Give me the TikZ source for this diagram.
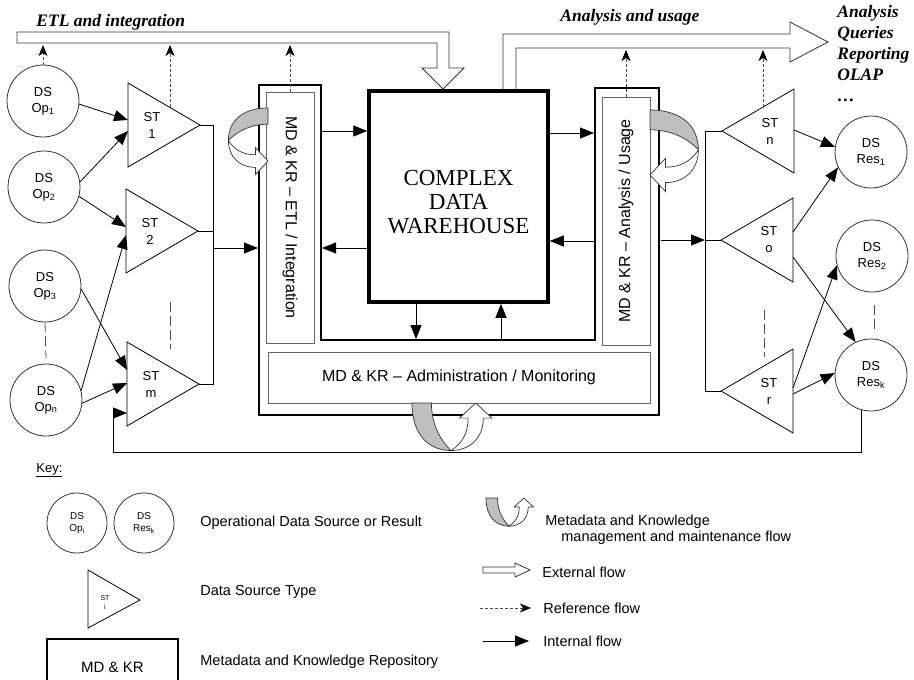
\documentclass[tikz,border=0pt]{standalone}
\usepackage{fontspec}
\setmainfont{Liberation Serif}
\setsansfont{Liberation Sans}
\usetikzlibrary{calc, positioning, arrows.meta}

\tikzset{
  dscirc/.style={circle, draw=black!80, minimum size=72, inner sep=0pt, align=center,
    font=\fontsize{13}{16}\selectfont\sffamily},
  sttext/.style={inner sep=0pt, align=center, font=\fontsize{13}{17}\selectfont\sffamily},
  mdbox/.style={draw=black!60, line width=0.8pt, inner sep=0pt,
    font=\fontsize{16}{19}\selectfont\sffamily},
  dwbox/.style={draw, line width=3.5pt, align=center, inner sep=0pt,
    font=\fontsize{23}{24}\selectfont\rmfamily},
  extflow/.style={draw=black!80, fill=white, line width=0.8pt},
  intarrow/.style={-{Triangle[length=14pt,width=11pt]}},
  refarrow/.style={draw=black!70, dash pattern=on 3pt off 2pt,
    -{Stealth[length=11pt,width=9pt,inset=3pt,color=black]}},
  sepdash/.style={draw=black!70, dash pattern=on 10pt off 4pt},
  curlgray/.style={fill=black!25, draw=black!80, line width=0.7pt},
  curlwhite/.style={fill=white, draw=black!80, line width=0.7pt},
  titletext/.style={inner sep=0pt, font=\fontsize{17.5}{21}\selectfont\rmfamily\bfseries\itshape},
  lbl/.style={anchor=west, inner sep=0pt, font=\fontsize{14.5}{16}\selectfont\sffamily},
}

% twisted metadata flow, base on v=0, loop outwards along +v
\newcommand{\mdcurl}{%
  \filldraw[curlgray] (0,0) .. controls (0,30) and (16,44) .. (36,44)
    .. controls (28,36) and (18,22) .. (18,0) -- cycle;
  \filldraw[curlwhite] (36,44) .. controls (54,44) and (66,32) .. (66,14)
    -- (74,14) -- (59,0) -- (44,14) -- (52,14)
    .. controls (52,28) and (46,38) .. (36,44) -- cycle;
}

\begin{document}
\begin{tikzpicture}[x=1pt, y=-1pt, line width=0.8pt]
\useasboundingbox (0,0) rectangle (914,680);
\clip (0,0) rectangle (914,680);

% titles
\node[titletext, anchor=west] (etltitle) at (36,22) {ETL and integration};
\node[titletext, anchor=west] (anatitle) at (560,17) {Analysis and usage};
\node[titletext, anchor=north west, align=left] (uses) at (837,5)
  {Analysis\\Queries\\Reporting\\OLAP\\\dots};

% external flows
\draw[extflow] (17,32) -- (449,32) -- (449,68) -- (464,68) -- (443,89) -- (422,68)
  -- (437,68) -- (437,43) -- (17,43) -- cycle;
\draw[extflow] (503,89) -- (503,34) -- (790,34) -- (790,22) -- (828,42) -- (790,62)
  -- (790,48) -- (516,48) -- (516,89);

% repository frame
\draw[line width=2.8pt] (259,85) -- (321,85) -- (321,340) -- (595,340) -- (595,88)
  -- (659,88) -- (659,415) -- (259,415) -- cycle;

\node[mdbox, rotate=-90, minimum width=251, minimum height=48] (etl) at (290,217.5)
  {MD \& KR \textendash{} ETL / Integration};
\node[mdbox, rotate=90, minimum width=248, minimum height=48] (ana) at (626,221)
  {MD \& KR \textendash{} Analysis / Usage};
\node[mdbox, minimum width=382, minimum height=51] (adm) at (459,377.5)
  {MD \& KR \textendash{} Administration / Monitoring};

\node[dwbox, minimum width=179, minimum height=211] (dw) at (458.5,196.5)
  {\rule{0pt}{26pt}COMPLEX\\DATA\\WAREHOUSE};

% sources and source types
\node[dscirc] (op1) at (43,101) {DS\\Op\textsubscript{1}};
\node[dscirc] (op2) at (44,187) {DS\\Op\textsubscript{2}};
\node[dscirc] (op3) at (45,286) {DS\\Op\textsubscript{3}};
\node[dscirc] (opn) at (46,400) {DS\\Op\textsubscript{n}};

\node[sttext] (st1) at (152,125) {ST\\1};
\node[sttext] (st2) at (150,231) {ST\\2};
\node[sttext] (stm) at (151,384) {ST\\m};
\foreach \nm in {st1,st2,stm}
  \draw ($(\nm)+(-24,-42)$) -- ($(\nm)+(48,0)$) -- ($(\nm)+(-24,42)$) -- cycle;

\node[sttext] (stn) at (770,131) {ST\\n};
\node[sttext] (sto) at (769,240) {ST\\o};
\node[sttext] (str) at (769,391) {ST\\r};
\foreach \nm in {stn,sto,str}
  \draw ($(\nm)+(24,-42)$) -- ($(\nm)+(-48,0)$) -- ($(\nm)+(24,42)$) -- cycle;

\node[dscirc] (res1) at (871,152) {DS\\Res\textsubscript{1}};
\node[dscirc] (res2) at (872,256) {DS\\Res\textsubscript{2}};
\node[dscirc] (resk) at (871,375) {DS\\Res\textsubscript{k}};

% "more of the same"
\draw[sepdash] (op3.south) -- ($(opn.north)+(0,-5)$);
\draw[sepdash] ($(st2)+(20,71)$) -- ($(stm)+(19,-35)$);
\draw[sepdash] ($(sto)+(-5,70)$) -- ($(str)+(-5,-34)$);
\draw[sepdash] ($(res2.south)+(2,13)$) -- ($(resk.north)+(3,-6)$);

% internal flow, left side
\draw[intarrow] (op1.-5) -- ($(st1)+(-24,-5)$);
\draw[intarrow] (op2.8) -- ($(st1)+(-24,6)$);
\draw[intarrow] (op2.-15) -- ($(st2)+(-24,-4)$);
\draw[intarrow] (opn.15) -- ($(st2)+(-24,4)$);
\draw[intarrow] (op3.-5) -- ($(stm)+(-24,-14)$);
\draw[intarrow] (opn.-5) -- ($(stm)+(-24,-1)$);

\coordinate (lbus) at (213,0);
\coordinate (etlin) at (258,248);
\draw ($(st1)+(48,0)$) -| (lbus |- stm) -- ($(stm)+(48,0)$);
\draw ($(st2)+(48,0)$) -- (lbus |- st2);
\draw[intarrow] (lbus |- etlin) -- (etlin);

% internal flow around the warehouse
\coordinate (etlwall) at (322,0);
\coordinate (anawall) at (594,0);
\coordinate (botwall) at (0,339);
\draw[intarrow] (etlwall |- 0,131) -- (dw.west |- 0,131);
\draw[intarrow] (dw.west |- 0,248) -- (etlwall |- 0,248);
\draw[intarrow] (dw.east |- 0,133) -- (anawall |- 0,133);
\draw[intarrow] (anawall |- 0,241) -- (dw.east |- 0,241);
\draw[intarrow] (dw.south -| 416,0) -- (botwall -| 416,0);
\draw[intarrow] (botwall -| 501,0) -- (dw.south -| 501,0);

% internal flow, right side
\coordinate (rbus) at (705,0);
\coordinate (anaout) at (661,240);
\draw[intarrow] (anaout) -- (rbus |- anaout);
\draw ($(stn)+(-48,0)$) -| (rbus |- str) -- ($(str)+(-48,0)$);
\draw ($(sto)+(-48,0)$) -- (rbus |- sto);

\draw[intarrow] ($(stn)+(24,-1)$) -- (res1.172);
\draw[intarrow] ($(sto)+(24,-8)$) -- (res1.205);
\draw[intarrow] ($(sto)+(24,17)$) -- (resk.115);
\draw[intarrow] ($(str)+(24,-3)$) -- (res2.195);
\draw[intarrow] ($(str)+(24,3)$) -- (resk.177);

% feedback of results
\coordinate (fbcorner) at (113,452);
\draw[intarrow] (resk.-105) |- (fbcorner) |- ($(stm)+(-24,29)$);

% reference flow
\coordinate (etlflow) at (0,45);
\coordinate (anaflow) at (0,50);
\draw[refarrow] (op1.north) -- (op1.north |- etlflow);
\draw[refarrow] ($(st1)+(18,-18)$) -- ($(st1)+(18,-80)$);
\draw[refarrow] (etl.west) -- (etl.west |- etlflow);
\draw[refarrow] (ana.east) -- (ana.east |- anaflow);
\draw[refarrow] ($(stn)+(-7,-24)$) -- ($(stn)+(-7,-81)$);

% metadata management flows
\begin{scope}[shift={(268,108)}, x={(0pt,-0.9pt)}, y={(-0.9pt,0pt)}]
  \mdcurl
\end{scope}
\begin{scope}[shift={(650,110)}, x={(0pt,-1.1pt)}, y={(1.1pt,0pt)}]
  \mdcurl
\end{scope}
\begin{scope}[shift={(412,403)}, x={(1.08pt,0pt)}, y={(0pt,-1.08pt)}]
  \mdcurl
\end{scope}

% key
\node[anchor=west, inner sep=0pt, font=\fontsize{13}{16}\selectfont\sffamily] (key) at (36,470)
  {\underline{Key:}};
\node[dscirc, minimum size=60, font=\fontsize{10}{12}\selectfont\sffamily] (keyop) at (77,523)
  {DS\\Op\textsubscript{i}};
\node[dscirc, minimum size=60, font=\fontsize{10}{12}\selectfont\sffamily] (keyres) at (144,523)
  {DS\\Res\textsubscript{k}};
\node[lbl] (keydslbl) at (200,523) {Operational Data Source or Result};

\node[sttext, font=\fontsize{7}{9}\selectfont\sffamily] (keyst) at (105,603) {ST\\i};
\draw ($(keyst)+(-17,-33)$) -- ($(keyst)+(35,-3)$) -- ($(keyst)+(-17,25)$) -- cycle;
\node[lbl] (keystlbl) at (200,592) {Data Source Type};

\node[draw, line width=2pt, minimum width=131, minimum height=56,
  font=\fontsize{15}{18}\selectfont\sffamily] (keymd) at (112.5,667) {MD \& KR};
\node[lbl] (keymdlbl) at (200,662) {Metadata and Knowledge Repository};

\begin{scope}[shift={(486,498)}, x={(0.64pt,0pt)}, y={(0pt,-0.64pt)}]
  \mdcurl
\end{scope}
\node[lbl, align=left] (keycurllbl) at (545,530)
  {Metadata and Knowledge\\\hspace*{16pt}management and maintenance flow};

\draw[extflow] (483,567) -- (515,567) -- (515,563) -- (530,570) -- (515,577) -- (515,573)
  -- (483,573) -- cycle;
\node[lbl] (keyextlbl) at (542,572) {External flow};

\coordinate (keyref) at (480,608);
\node[lbl] (keyreflbl) at (543,608) {Reference flow};
\draw[refarrow] (keyref) -- ($(keyreflbl.west)+(-12,0)$);

\coordinate (keyint) at (483,641);
\node[lbl] (keyintlbl) at (543,641) {Internal flow};
\draw[intarrow] (keyint) -- ($(keyintlbl.west)+(-14,0)$);
\end{tikzpicture}
\end{document}
